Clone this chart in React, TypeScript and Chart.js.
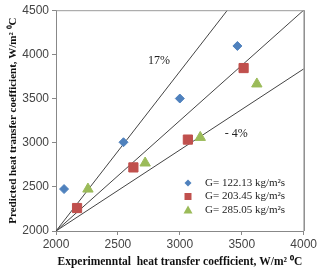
import React, { useEffect, useRef } from "react";
import { Chart, registerables } from "chart.js";

Chart.register(...registerables);

const blueX = [2065, 2545, 3000, 3465];
const blueY = [2475, 3005, 3500, 4095];
const redX = [2170, 2625, 3065, 3515];
const redY = [2260, 2720, 3035, 3845];
const greenX = [2258, 2720, 3165, 3622];
const greenY = [2475, 2770, 3060, 3665];

const seriesLabels = ["G= 122.13 kg/m²s", "G= 203.45 kg/m²s", "G= 285.05 kg/m²s"];

const line17X = [2000, 3384];
const line17Y = [2000, 4500];
const line0X = [2000, 4000];
const line0Y = [2000, 4500];
const lineM4X = [2000, 4000];
const lineM4Y = [2000, 3835];

const annotText = ["17%", "- 4%"];
const annotX = [2832, 3456];
const annotY = [3925, 3100];

const xTitle = "Experimenntal  heat transfer coefficient, W/m² ⁰C";
const yTitle = "Predicted heat transfer coefficient, W/m² ⁰C";

const pts = (xs: number[], ys: number[]) => xs.map((x, i) => ({ x, y: ys[i] }));

export default function App() {
  const ref = useRef<HTMLCanvasElement>(null);
  useEffect(() => {
    const overlay = {
      id: "overlay",
      afterDraw(chart: any) {
        const ctx = chart.ctx;
        const a = chart.chartArea;
        const xs = chart.scales.x;
        const ys = chart.scales.y;
        ctx.save();
        ctx.lineWidth = 1;
        ctx.strokeStyle = "#9a9a9a";
        ctx.beginPath();
        ctx.moveTo(a.left, a.top + 0.5);
        ctx.lineTo(a.right, a.top + 0.5);
        ctx.stroke();
        ctx.strokeStyle = "#555";
        ctx.beginPath();
        ctx.moveTo(a.right + 0.5, a.top);
        ctx.lineTo(a.right + 0.5, a.bottom);
        ctx.stroke();
        ctx.fillStyle = "#222";
        ctx.font = "12px 'Liberation Serif'";
        ctx.textAlign = "center";
        ctx.textBaseline = "middle";
        annotText.forEach((t, i) => {
          ctx.fillText(t, xs.getPixelForValue(annotX[i]), ys.getPixelForValue(annotY[i]));
        });
        const lx = 188;
        const ly0 = 183;
        const step = 13.5;
        ctx.font = "11px 'Liberation Serif'";
        ctx.textAlign = "left";
        for (let i = 0; i < 3; i++) {
          const ds = chart.data.datasets[i];
          const y = ly0 + i * step;
          ctx.fillStyle = ds.backgroundColor;
          const r = 3.5;
          ctx.beginPath();
          if (i === 0) {
            ctx.moveTo(lx, y - r); ctx.lineTo(lx + r, y); ctx.lineTo(lx, y + r); ctx.lineTo(lx - r, y);
          } else if (i === 1) {
            ctx.rect(lx - 3.5, y - 3.5, 7, 7);
          } else {
            ctx.moveTo(lx, y - 4.5); ctx.lineTo(lx + 4.5, y + 3.5); ctx.lineTo(lx - 4.5, y + 3.5);
          }
          ctx.closePath();
          ctx.fill();
          ctx.fillStyle = "#222";
          ctx.fillText(seriesLabels[i], 205, y);
        }
        ctx.restore();
      },
    };
    const tickCb = (v: any) => String(v);
    const chart = new Chart(ref.current!, {
      type: "scatter",
      data: {
        datasets: [
          { label: seriesLabels[0], data: pts(blueX, blueY), backgroundColor: "#4F81BD", borderColor: "#4F81BD", pointStyle: "rectRot", pointRadius: 4.5 },
          { label: seriesLabels[1], data: pts(redX, redY), backgroundColor: "#C0504D", borderColor: "#C0504D", pointStyle: "rect", pointRadius: 6.5 },
          { label: seriesLabels[2], data: pts(greenX, greenY), backgroundColor: "#9BBB59", borderColor: "#9BBB59", pointStyle: "triangle", pointRadius: 6 },
          { label: "17%", type: "line", data: pts(line17X, line17Y), borderColor: "#444", borderWidth: 1, pointRadius: 0, showLine: true },
          { label: "0%", type: "line", data: pts(line0X, line0Y), borderColor: "#444", borderWidth: 1, pointRadius: 0, showLine: true },
          { label: "-4%", type: "line", data: pts(lineM4X, lineM4Y), borderColor: "#444", borderWidth: 1, pointRadius: 0, showLine: true },
        ] as any,
      },
      options: {
        responsive: false,
        animation: false,
        layout: { padding: { left: 0, right: 14, top: 5, bottom: 0 } },
        plugins: { legend: { display: false }, tooltip: { enabled: false } },
        scales: {
          x: {
            type: "linear",
            min: 2000,
            max: 4000,
            ticks: { stepSize: 500, callback: tickCb, color: "#444", font: { family: "'Liberation Sans'", size: 12 }, padding: 2, maxRotation: 0 },
            grid: { drawOnChartArea: false, tickLength: 4, color: "#888" },
            border: { color: "#888" },
            title: { display: true, text: xTitle, color: "#111", font: { family: "'Liberation Serif'", size: 11.5, weight: "bold" }, padding: { top: 3, bottom: 0 } },
            afterFit: (s: any) => { s.height = 38; },
          },
          y: {
            type: "linear",
            min: 2000,
            max: 4500,
            ticks: { stepSize: 500, callback: tickCb, color: "#444", font: { family: "'Liberation Sans'", size: 12 }, padding: 3 },
            grid: { drawOnChartArea: false, tickLength: 4, color: "#888" },
            border: { color: "#888" },
            title: { display: true, text: yTitle, color: "#111", font: { family: "'Liberation Serif'", size: 11, weight: "bold" }, padding: { top: 7, bottom: 0 } },
            afterFit: (s: any) => { s.width = 56; },
          },
        },
      } as any,
      plugins: [overlay],
    });
    return () => chart.destroy();
  }, []);
  return (
    <div style={{ position: "absolute", left: 0, top: 0, width: 319, height: 269, background: "#fff" }}>
      <canvas ref={ref} width={319} height={269} />
    </div>
  );
}
